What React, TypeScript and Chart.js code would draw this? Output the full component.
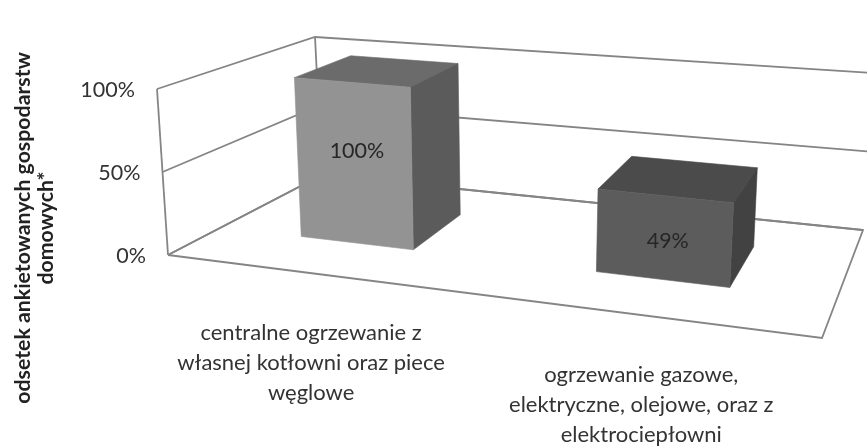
import React, { useEffect, useRef } from "react";
import { Chart, registerables } from "chart.js";

Chart.register(...registerables);

const categories = [
  ["centralne ogrzewanie z", "własnej kotłowni oraz piece", "węglowe"],
  ["ogrzewanie gazowe,", "elektryczne, olejowe, oraz z", "elektrociepłowni"],
];
const shares = [100, 49];
const barColors = ["#939393", "#5c5c5c"];
const topShade = [0.73, 0.81];
const sideShade = [0.62, 0.72];
const axisTitle = ["odsetek ankietowanych gospodarstw", "domowych*"];

type Pt = [number, number];
const FLOOR: Pt[] = [[168, 255], [822, 338], [863, 230], [322, 175]];
const RISE: Pt[] = [[-11, -166], [12.6, -187], [10, -157], [-7, -138]];
const PERSPECTIVE = 0.19;
const DEPTH_FRONT = 0.35;
const DEPTH_BACK = 0.745;

function warp(u: number) {
  return u / (1 + PERSPECTIVE * (1 - u));
}
function bilinear(q: Pt[], u: number, d: number): Pt {
  const f = (i: number) =>
    (1 - d) * ((1 - u) * q[0][i] + u * q[1][i]) + d * ((1 - u) * q[3][i] + u * q[2][i]);
  return [f(0), f(1)];
}
function project(u: number, d: number, t: number): Pt {
  const w = warp(u);
  const p = bilinear(FLOOR, w, d);
  const h = bilinear(RISE, w, d);
  return [p[0] + t * h[0], p[1] + t * h[1]];
}
function shade(hex: string, k: number) {
  const n = parseInt(hex.slice(1), 16);
  const c = (s: number) => Math.round(((n >> s) & 255) * k);
  return `rgb(${c(16)},${c(8)},${c(0)})`;
}
function poly(ctx: CanvasRenderingContext2D, pts: Pt[], fill: string) {
  ctx.beginPath();
  pts.forEach((p, i) => (i ? ctx.lineTo(p[0], p[1]) : ctx.moveTo(p[0], p[1])));
  ctx.closePath();
  ctx.fillStyle = fill;
  ctx.fill();
  ctx.strokeStyle = fill;
  ctx.lineWidth = 0.6;
  ctx.stroke();
}
function path(ctx: CanvasRenderingContext2D, pts: Pt[]) {
  ctx.beginPath();
  pts.forEach((p, i) => (i ? ctx.lineTo(p[0], p[1]) : ctx.moveTo(p[0], p[1])));
  ctx.stroke();
}

const FONT = "Lato, sans-serif";
const TEXT = "#333333";

const box3d = {
  id: "box3d",
  beforeDatasetsDraw(chart: any) {
    const { ctx, chartArea: a, scales } = chart;
    const y = scales.y;
    ctx.save();
    ctx.strokeStyle = "#858585";
    ctx.lineWidth = 1.8;
    ctx.lineJoin = "miter";
    path(ctx, [project(0, 0, 0), project(1, 0, 0), project(1, 1, 0), project(0, 1, 0), project(0, 0, 0)]);
    path(ctx, [project(0, 0, 0), project(0, 0, 1)]);
    path(ctx, [project(0, 1, 0), project(0, 1, 1)]);
    y.ticks.forEach((tk: any) => {
      const t = (y.bottom - y.getPixelForValue(tk.value)) / a.height;
      path(ctx, [project(0, 0, t), project(0, 1, t), project(1, 1, t)]);
      const e = project(0, 0, t);
      ctx.fillStyle = TEXT;
      ctx.font = `21.5px ${FONT}`;
      ctx.textAlign = "right";
      ctx.textBaseline = "middle";
      ctx.fillText(`${tk.value}%`, e[0] - 22, e[1] + 1.5);
    });
    const x = scales.x;
    ctx.fillStyle = TEXT;
    ctx.font = `22px ${FONT}`;
    ctx.textAlign = "center";
    categories.forEach((lines, i) => {
      const u = (x.getPixelForValue(i) - a.left) / a.width;
      const e = project(u, 0, 0);
      lines.forEach((ln, k) => ctx.fillText(ln, e[0] + (i ? 5 : 0), e[1] + 60 + k * 30));
    });
    ctx.restore();
  },
  beforeDatasetDraw(chart: any, args: any) {
    const { ctx, chartArea: a } = chart;
    const meta = chart.getDatasetMeta(args.index);
    ctx.save();
    meta.data.forEach((el: any, i: number) => {
      const u0 = (el.x - el.width / 2 - a.left) / a.width;
      const u1 = (el.x + el.width / 2 - a.left) / a.width;
      const t = (el.base - el.y) / a.height;
      const col = el.options.backgroundColor;
      const f = DEPTH_FRONT;
      const b = DEPTH_BACK;
      poly(ctx, [project(u0, f, t), project(u1, f, t), project(u1, b, t), project(u0, b, t)], shade(col, topShade[i]));
      poly(ctx, [project(u1, f, 0), project(u1, f, t), project(u1, b, t), project(u1, b, 0)], shade(col, sideShade[i]));
      poly(ctx, [project(u0, f, 0), project(u1, f, 0), project(u1, f, t), project(u0, f, t)], col);
    });
    ctx.restore();
    return false;
  },
  afterDatasetsDraw(chart: any) {
    const { ctx, chartArea: a } = chart;
    const meta = chart.getDatasetMeta(0);
    ctx.save();
    ctx.fillStyle = "#262626";
    ctx.font = `21.5px ${FONT}`;
    ctx.textAlign = "center";
    ctx.textBaseline = "middle";
    meta.data.forEach((el: any, i: number) => {
      const u = (el.x - a.left) / a.width;
      const t = (el.base - el.y) / a.height;
      const p = project(u, DEPTH_FRONT, t * 0.688);
      ctx.fillText(`${shares[i]}%`, p[0] + 4, p[1] + 19);
    });
    ctx.restore();
  },
};

export default function App() {
  const ref = useRef<HTMLCanvasElement | null>(null);
  useEffect(() => {
    const chart = new Chart(ref.current as HTMLCanvasElement, {
      type: "bar",
      plugins: [box3d],
      data: {
        labels: categories.map((c) => c.join(" ")),
        datasets: [
          {
            data: shares,
            backgroundColor: barColors,
            barPercentage: 0.4,
            categoryPercentage: 1,
          },
        ],
      },
      options: {
        responsive: false,
        animation: false,
        layout: { padding: { left: 12, top: 17, right: 0, bottom: 0 } },
        plugins: { legend: { display: false }, tooltip: { enabled: false } },
        scales: {
          x: { ticks: { display: false }, grid: { display: false }, border: { display: false } },
          y: {
            min: 0,
            max: 100,
            ticks: { display: false, stepSize: 50 },
            grid: { display: false },
            border: { display: false },
            title: {
              display: true,
              text: axisTitle,
              color: "#222222",
              font: { family: FONT, size: 21.3, weight: "bold", lineHeight: 1.08 },
              padding: 0,
            },
          },
        },
      },
    } as any);
    return () => chart.destroy();
  }, []);
  return (
    <div style={{ position: "fixed", left: 0, top: 0, width: 867, height: 447, background: "#fff" }}>
      <canvas ref={ref} width={867} height={447} style={{ display: "block" }} />
    </div>
  );
}
